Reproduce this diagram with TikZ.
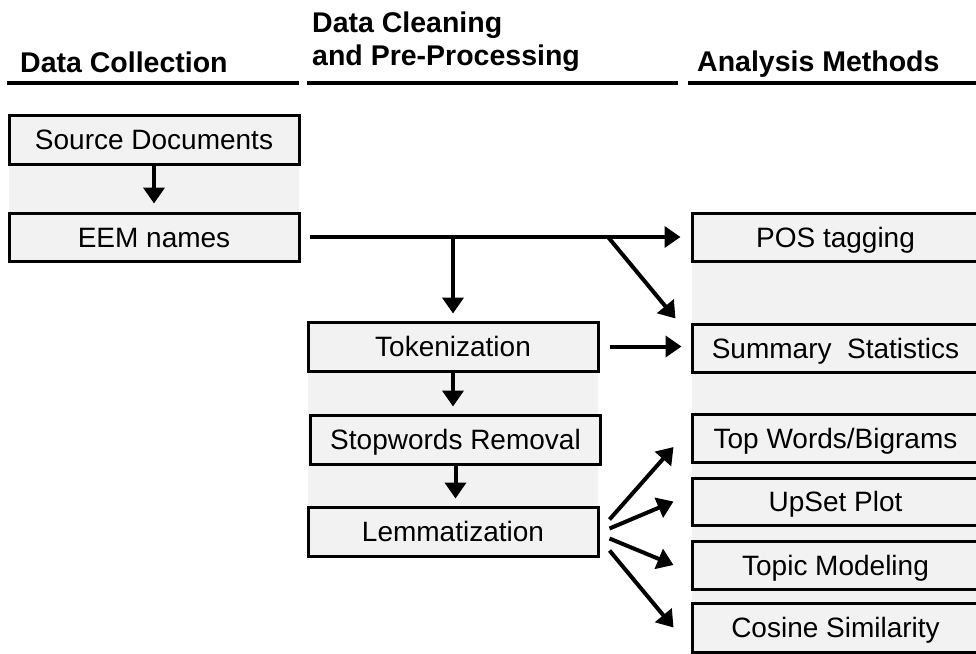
\documentclass[tikz,border=0pt]{standalone}
\usepackage{fontspec}
\setmainfont{Liberation Sans}
\usepackage{tikz}
\usetikzlibrary{arrows.meta,calc}
\definecolor{bandgray}{HTML}{F2F2F2}
\tikzset{
    stagebox/.style={rectangle, draw, line width=3pt, fill=bandgray,
      minimum width=290pt, minimum height=48pt, inner sep=0pt,
      text height=22pt, text depth=2pt,
      font=\fontsize{28}{33}\selectfont},
    header/.style={anchor=base west, inner sep=0pt,
      font=\fontsize{28.5}{33}\selectfont\bfseries},
    rule/.style={line width=4pt},
    flow/.style={-{Triangle[length=16pt,width=21pt]}, line width=4pt},
}

\begin{document}
\begin{tikzpicture}[x=1pt,y=-1pt]
 \useasboundingbox (0,0) rectangle (976,653);
 \clip (0,0) rectangle (976,653);
 % headers
 \node[header] (hdrA) at (20,72) {Data Collection};
 \node[header] (hdrB1) at (312,32) {Data Cleaning};
 \node[header] (hdrB2) at (312,65) {and Pre-Processing};
 \node[header] (hdrC) at (697,71) {Analysis Methods};
 \draw[rule] (7,83) -- (299,83);
 \draw[rule] (307,83) -- (678,83);
 \draw[rule] (688,83) -- (980,83);
 % gray bands behind the columns
 \fill[bandgray] (9,115) rectangle (299,261);
 \fill[bandgray] (308,322) rectangle (598,556);
 \fill[bandgray] (692,213) rectangle (980,660);
 % data collection
 \node[stagebox, minimum height=49pt] (src) at (154,139.5) {Source Documents};
 \node[stagebox] (eem) at (154,237) {EEM names};
 % cleaning and pre-processing
 \node[stagebox, minimum height=49pt] (tok) at (453,346.5) {Tokenization};
 \node[stagebox, minimum height=49pt] (stop) at (455.5,439.5) {Stopwords Removal};
 \node[stagebox, minimum height=49pt] (lem) at (453,531.5) {Lemmatization};
 % analysis methods
 \node[stagebox, minimum width=287pt] (pos) at (835.5,237.5) {POS tagging};
 \node[stagebox, minimum width=287pt] (sum) at (835.5,348) {Summary\ \ Statistics};
 \node[stagebox, minimum width=287pt] (top) at (835.5,438) {Top Words/Bigrams};
 \node[stagebox, minimum width=287pt, minimum height=47pt] (ups) at (835.5,501.5) {UpSet Plot};
 \node[stagebox, minimum width=287pt] (topic) at (835.5,565) {Topic Modeling};
 \node[stagebox, minimum width=287pt, minimum height=49pt] (cos) at (835.5,627.5) {Cosine Similarity};
 % connectors
 \draw[flow, shorten >=8pt] (src.south) -- (eem.north);
 \draw[flow, shorten <=9pt, shorten >=10pt] (eem.east) -- (eem.east -| pos.west);
 \draw[flow, shorten >=7pt] (tok.north |- eem.east) -- (tok.north);
 \coordinate (split) at (608,237);
 \draw[flow] (split) -- ([xshift=-15pt,yshift=4pt]sum.north west);
 \draw[flow, shorten <=10pt, shorten >=9pt] (tok.east) -- (tok.east -| sum.west);
 \draw[flow, shorten >=7pt] (tok.south) -- (tok.south |- stop.north);
 \draw[flow, shorten >=7pt] (stop.south) -- (stop.south |- lem.north);
 \draw[flow] ([xshift=10pt,yshift=12pt]lem.east) -- ([xshift=-17pt,yshift=-9pt]top.west);
 \draw[flow] ([xshift=10pt,yshift=3pt]lem.east) -- ([xshift=-17pt]ups.west);
 \draw[flow] ([xshift=10pt,yshift=-7pt]lem.east) -- ([xshift=-17pt]topic.west);
 \draw[flow] ([xshift=10pt,yshift=-19pt]lem.east) -- ([xshift=-17pt]cos.west);
\end{tikzpicture}
\end{document}
